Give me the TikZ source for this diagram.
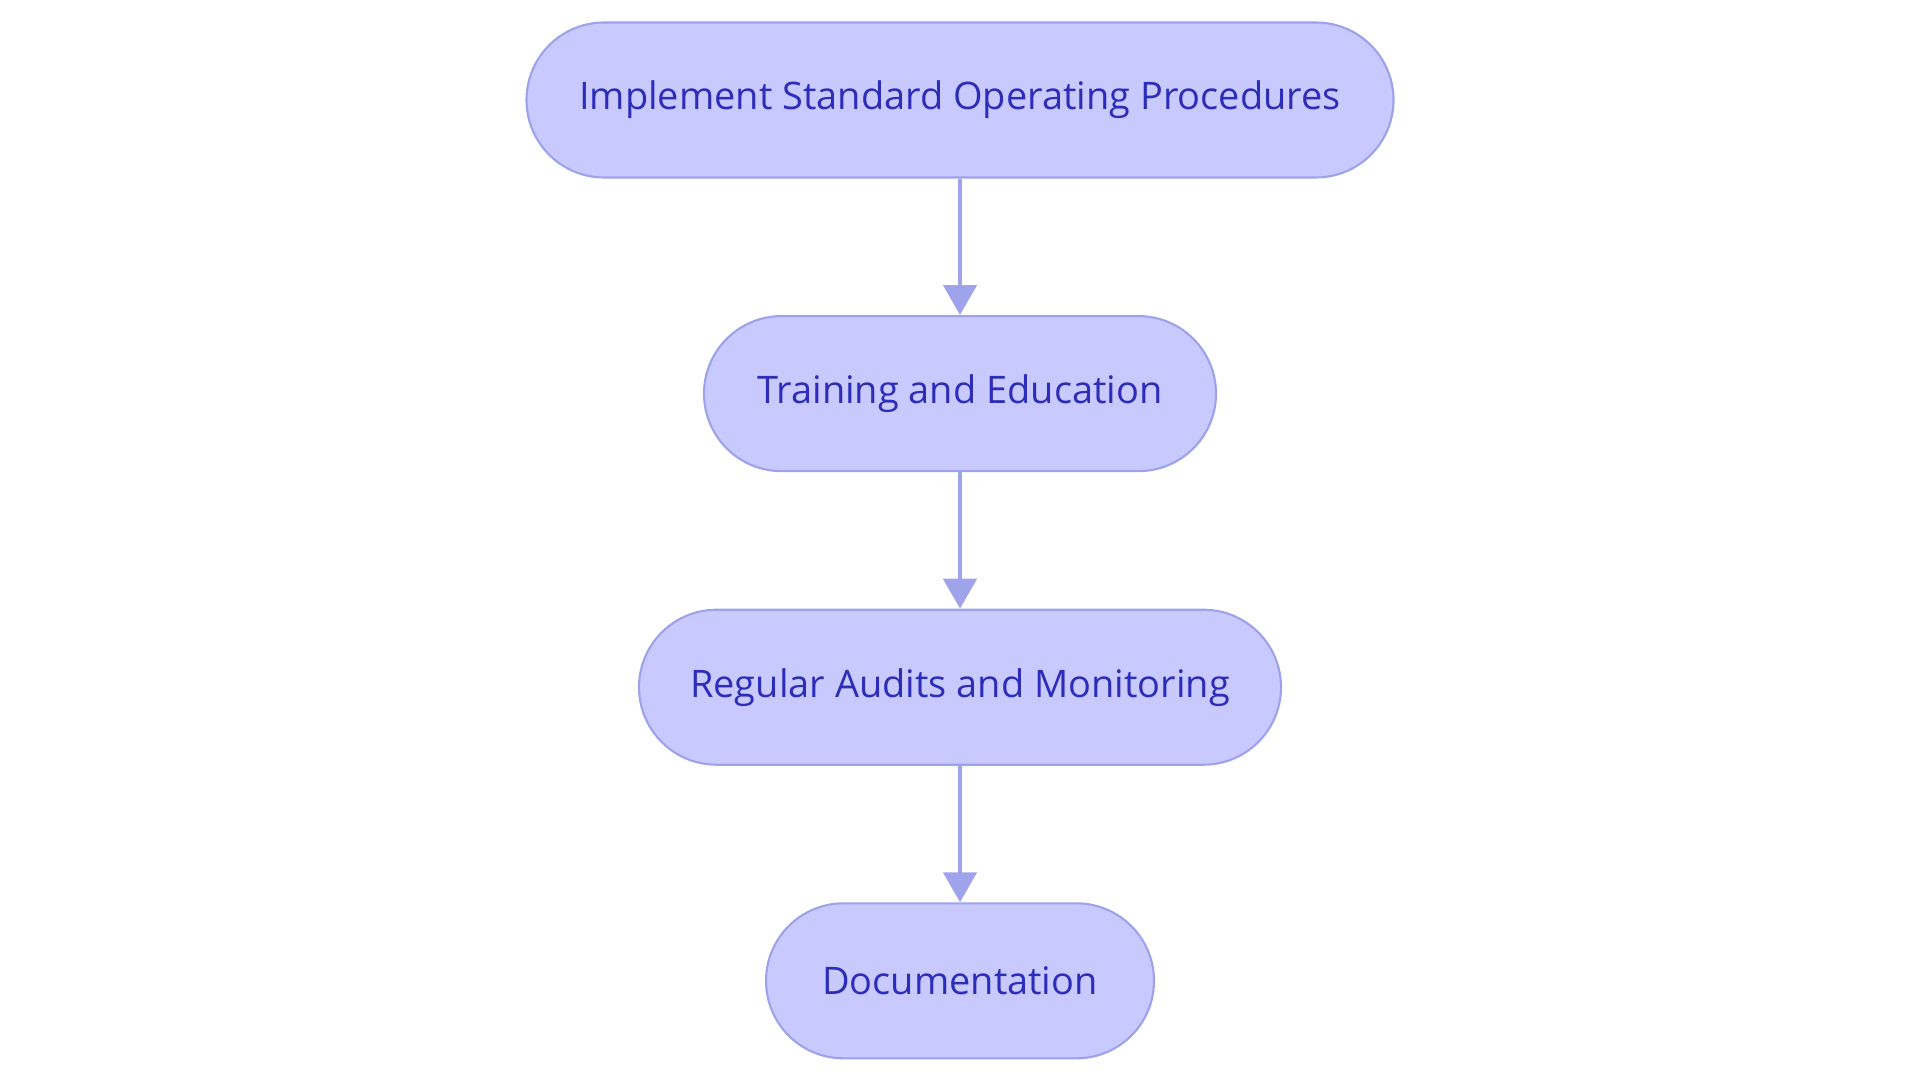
\documentclass[tikz,border=0pt]{standalone}
\usepackage{fontspec}
\setmainfont{Open Sans}
\usetikzlibrary{arrows.meta,positioning}
\definecolor{boxfill}{HTML}{C8CAFF}
\definecolor{boxline}{HTML}{9EA2EB}
\definecolor{boxtext}{HTML}{2D2DB9}
\definecolor{flowline}{HTML}{9FA3EC}

\begin{document}
\begin{tikzpicture}[x=1cm,y=1cm,>=stealth,font=\fontsize{10.8}{12}\selectfont,
  stage/.style={draw=boxline,line width=0.6pt,fill=boxfill,text=boxtext,
    minimum height=1.55cm,rounded corners=0.775cm,inner sep=0pt},
  flow/.style={-{Triangle[width=0.33cm,length=0.3cm]},line width=1.4pt,flowline},
  node distance=1.365cm]
\useasboundingbox (0,0) rectangle (19.2,-10.83);
\node[stage,minimum width=8.67cm] (sop) at (9.6,-1.0) {Implement Standard Operating Procedures};
\node[stage,minimum width=5.12cm,below=of sop] (train) {Training and Education};
\node[stage,minimum width=6.42cm,below=of train] (audit) {Regular Audits and Monitoring};
\node[stage,minimum width=3.88cm,below=of audit] (docs) {Documentation};
\draw[flow] (sop) -- (train);
\draw[flow] (train) -- (audit);
\draw[flow] (audit) -- (docs);
\end{tikzpicture}
\end{document}
